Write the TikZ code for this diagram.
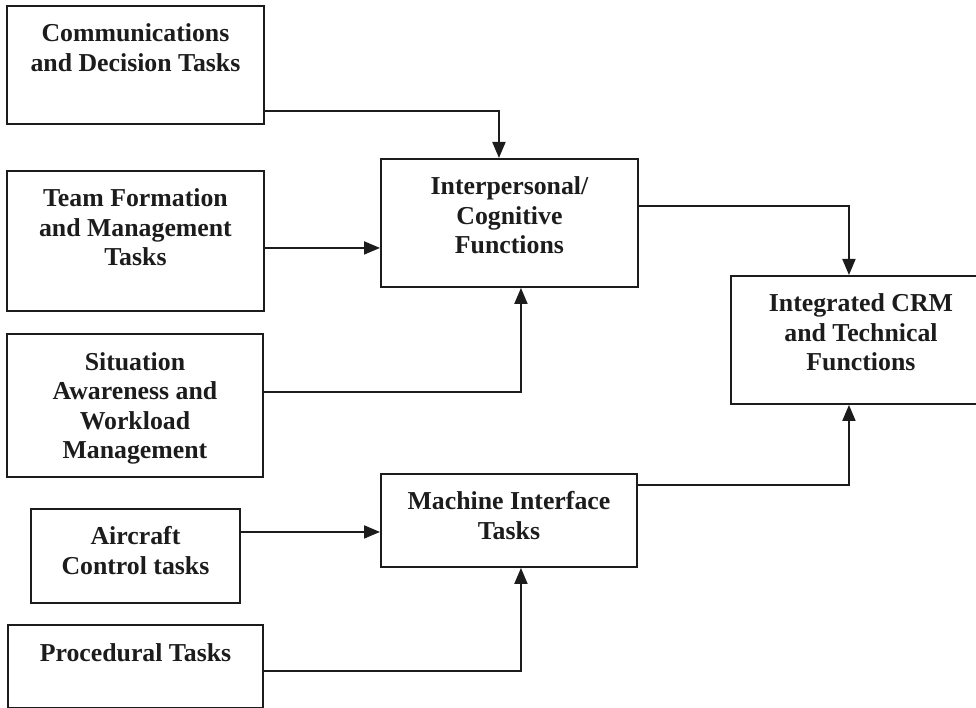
\documentclass[tikz,border=0pt]{standalone}
\usepackage{fontspec}
\setmainfont{Liberation Serif}
\usetikzlibrary{arrows.meta}
\definecolor{ink}{HTML}{1C1C1C}
\tikzset{
  box/.style={draw=ink, line width=1.9pt, rectangle, inner sep=0pt, anchor=north west},
  lbl/.style={anchor=north, inner sep=0pt, align=center, text=ink,
              font=\bfseries\fontsize{25.8}{29.5}\selectfont},
  conn/.style={draw=ink, line width=1.9pt, -{Triangle[length=16pt,width=13pt]}}
}
\begin{document}
\begin{tikzpicture}[x=1pt,y=-1pt]
\useasboundingbox (0,0) rectangle (976,708);

% task boxes on the left
\node[box, minimum width=257pt, minimum height=118pt] (comm) at (6,5) {};
\node[box, minimum width=257pt, minimum height=140pt] (team) at (6,170) {};
\node[box, minimum width=256pt, minimum height=143pt] (sit)  at (6,333) {};
\node[box, minimum width=209pt, minimum height=94pt]  (air)  at (30,508) {};
\node[box, minimum width=255pt, minimum height=83pt]  (proc) at (7,624) {};

% function boxes
\node[box, minimum width=257pt, minimum height=128pt] (ic)  at (380,158) {};
\node[box, minimum width=256pt, minimum height=93pt]  (mi)  at (380,473) {};
\node[box, minimum width=260pt, minimum height=128pt] (crm) at (730,275) {};

% labels
\node[lbl] (tcomm) at ([yshift=-18.5pt]comm.north) {Communications\\and Decision Tasks};
\node[lbl] (tteam) at ([yshift=-18.5pt]team.north) {Team Formation\\and Management\\Tasks};
\node[lbl] (tsit)  at ([yshift=-19pt]sit.north) {Situation\\Awareness and\\Workload\\Management};
\node[lbl] (tair)  at ([yshift=-18.5pt]air.north) {Aircraft\\Control tasks};
\node[lbl] (tproc) at ([yshift=-19.5pt]proc.north) {Procedural Tasks};
\node[lbl] (tic)   at ([yshift=-18.5pt]ic.north) {Interpersonal/\\Cognitive\\Functions};
\node[lbl] (tmi)   at ([yshift=-18.5pt]mi.north) {Machine Interface\\Tasks};
\node[lbl] (tcrm)  at ([yshift=-18.5pt]crm.north) {Integrated CRM\\and Technical\\Functions};

% connectors
\draw[conn] ([yshift=-46pt]comm.east) -| ([xshift=-10.5pt]ic.north);
\draw[conn] ([yshift=-7pt]team.east) -- ([yshift=-25pt]ic.west);
\draw[conn] ([yshift=13.5pt]sit.east) -| ([xshift=11.5pt]ic.south);
\draw[conn] ([yshift=24pt]air.east) -- ([yshift=-11.5pt]mi.west);
\draw[conn] ([yshift=-4.5pt]proc.east) -| ([xshift=12pt]mi.south);
\draw[conn] ([yshift=17pt]ic.east) -| ([xshift=-12pt]crm.north);
\draw[conn] ([yshift=35.5pt]mi.east) -| ([xshift=-12pt]crm.south);
\end{tikzpicture}
\end{document}
